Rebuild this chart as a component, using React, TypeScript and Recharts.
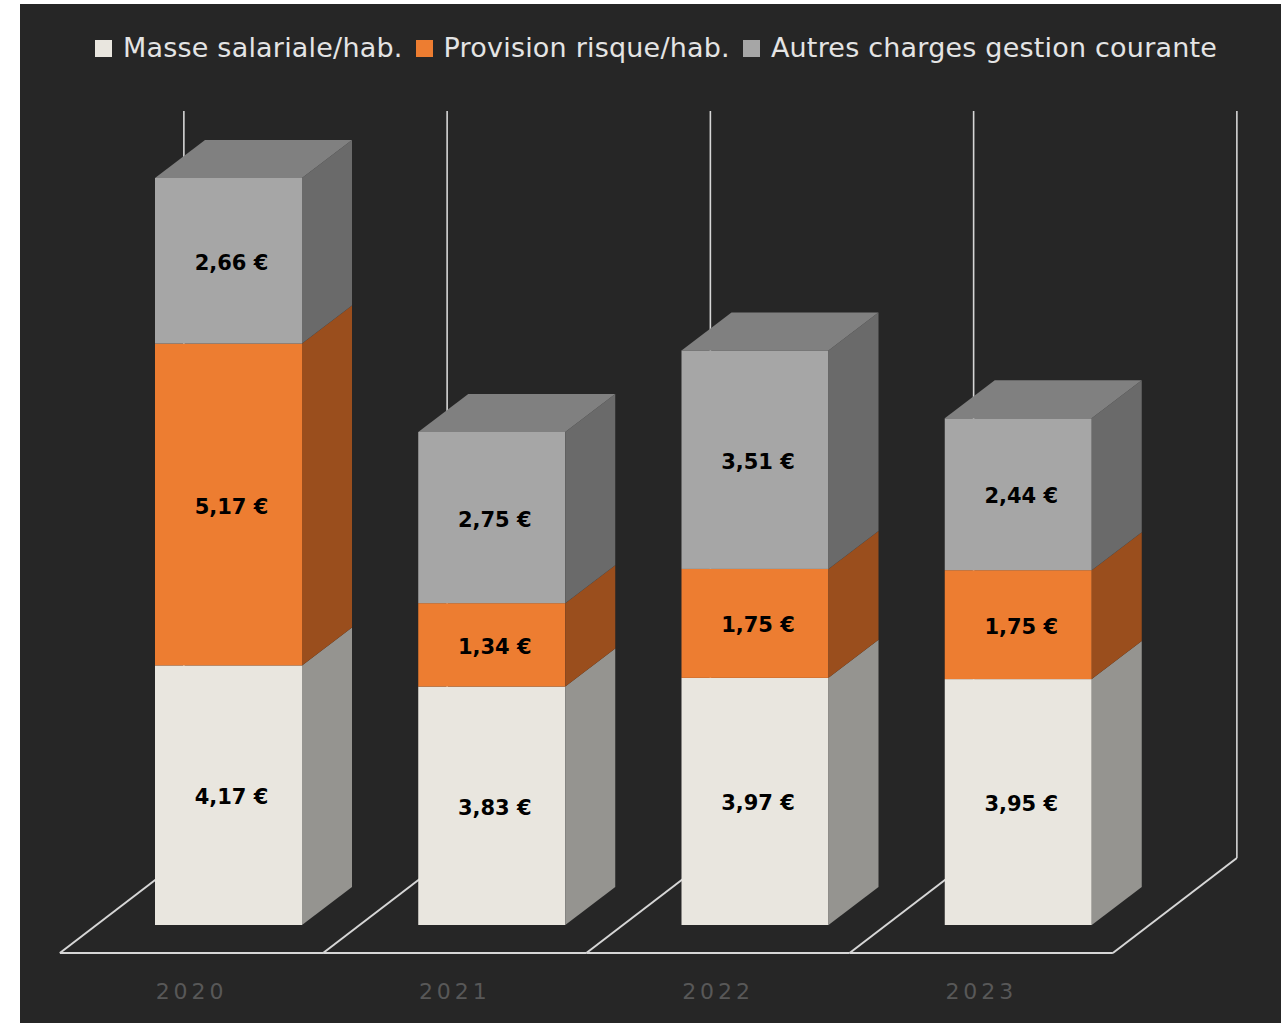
import { BarChart, Bar, XAxis, YAxis, LabelList } from 'recharts'

const years = ['2020', '2021', '2022', '2023']
const masseSalariale = [4.17, 3.83, 3.97, 3.95]
const provisionRisque = [5.17, 1.34, 1.75, 1.75]
const autresCharges = [2.66, 2.75, 3.51, 2.44]

const seriesNames = ['Masse salariale/hab.', 'Provision risque/hab.', 'Autres charges gestion courante']

const data = years.map((year, i) => ({
  year,
  masse: masseSalariale[i],
  provision: provisionRisque[i],
  autres: autresCharges[i],
}))

const CHART_W = 1261
const CHART_H = 1019
const MARGIN = { top: 174, right: 131, left: 77, bottom: 38 }
const PLOT_W = CHART_W - MARGIN.left - MARGIN.right
const BAND = PLOT_W / years.length
const BAR_W = 147

// depth offsets (pixels) for the fake 3D look
const DX = 50
const DY = 38
const FLOOR_FRONT_DX = -37
const FLOOR_FRONT_DY = 28
const FLOOR_BACK_DX = 87
const FLOOR_BACK_DY = -67

const LINE = '#d6d6d6'
const FONT = "'DejaVu Sans', Verdana, sans-serif"

const COLORS = {
  masse: { front: '#e9e6df', side: '#959490', top: '#c4c2bd' },
  provision: { front: '#ed7d31', side: '#9a4e1d', top: '#c26427' },
  autres: { front: '#a6a6a6', side: '#6a6a6a', top: '#808080' },
}

function Box3D(props: any) {
  const { x, y, width, height, colors, showTop } = props
  if (!height || height <= 0) return null
  const r = x + width
  const b = y + height
  return (
    <g>
      <rect x={x} y={y} width={width} height={height} fill={colors.front} />
      <polygon
        points={`${r},${b} ${r + DX},${b - DY} ${r + DX},${y - DY} ${r},${y}`}
        fill={colors.side}
      />
      {showTop && (
        <polygon
          points={`${x},${y} ${r},${y} ${r + DX},${y - DY} ${x + DX},${y - DY}`}
          fill={colors.top}
        />
      )}
    </g>
  )
}

// floor and back wall lines, drawn behind the bars, one band at a time
function Floor(props: any) {
  const { x, y, width, height } = props
  const bandLeft = x - (BAND - width) / 2
  const bottom = y + height
  const top = y
  const isLast = bandLeft + BAND >= MARGIN.left + PLOT_W - 1
  const fy = bottom + FLOOR_FRONT_DY
  const by = bottom + FLOOR_BACK_DY
  const edges = isLast ? [bandLeft, bandLeft + BAND] : [bandLeft]
  return (
    <g>
      <line
        x1={bandLeft + FLOOR_FRONT_DX}
        y1={fy}
        x2={bandLeft + BAND + FLOOR_FRONT_DX}
        y2={fy}
        stroke={LINE}
        strokeWidth={2}
      />
      {edges.map((ex) => (
        <g key={ex}>
          <line
            x1={ex + FLOOR_FRONT_DX}
            y1={fy}
            x2={ex + FLOOR_BACK_DX}
            y2={by}
            stroke={LINE}
            strokeWidth={2}
          />
          <line
            x1={ex + FLOOR_BACK_DX}
            y1={by}
            x2={ex + FLOOR_BACK_DX}
            y2={top + FLOOR_BACK_DY}
            stroke={LINE}
            strokeWidth={1.6}
          />
        </g>
      ))}
    </g>
  )
}

function YearTick(props: any) {
  const { x, y, payload } = props
  return (
    <text
      x={x + FLOOR_FRONT_DX}
      y={y + 74}
      textAnchor="middle"
      fill="#585858"
      fontSize={22}
      fontFamily={FONT}
      style={{ letterSpacing: 4 }}
    >
      {payload.value}
    </text>
  )
}

const euro = (v: any) => `${Number(v).toFixed(2).replace('.', ',')} €`

function ValueLabel(props: any) {
  const { x, y, width, height, value } = props
  return (
    <text
      x={x + width / 2 + 3}
      y={y + height / 2 + 2}
      textAnchor="middle"
      dominantBaseline="central"
      fill="#000"
      fontSize={21}
      fontWeight={700}
      fontFamily={FONT}
    >
      {euro(value)}
    </text>
  )
}

function LegendRow() {
  const items = [
    { name: seriesNames[0], color: COLORS.masse.front },
    { name: seriesNames[1], color: COLORS.provision.front },
    { name: seriesNames[2], color: COLORS.autres.front },
  ]
  return (
    <div
      style={{
        position: 'absolute',
        top: 27,
        left: 75,
        display: 'flex',
        gap: 13,
        fontFamily: FONT,
        fontSize: 27,
        letterSpacing: 0.2,
        color: '#e4e4e4',
        lineHeight: '34px',
        whiteSpace: 'nowrap',
      }}
    >
      {items.map((it) => (
        <div key={it.name} style={{ display: 'flex', alignItems: 'center', gap: 11 }}>
          <span style={{ width: 17, height: 17, background: it.color, display: 'inline-block' }} />
          <span>{it.name}</span>
        </div>
      ))}
    </div>
  )
}

export default function App() {
  return (
    <div
      style={{
        position: 'absolute',
        left: 20,
        top: 4,
        width: CHART_W,
        height: CHART_H,
        background: '#262626',
      }}
    >
      <LegendRow />
      <BarChart width={CHART_W} height={CHART_H} data={data} margin={MARGIN} barSize={BAR_W}>
        <XAxis
          dataKey="year"
          axisLine={false}
          tickLine={false}
          tickSize={0}
          tickMargin={0}
          height={60}
          tick={<YearTick />}
          interval={0}
        />
        <YAxis hide domain={[0, 12]} />
        <Bar
          dataKey="masse"
          stackId="a"
          isAnimationActive={false}
          background={(p: any) => <Floor {...p} />}
          shape={(p: any) => <Box3D {...p} colors={COLORS.masse} />}
        >
          <LabelList dataKey="masse" content={<ValueLabel />} />
        </Bar>
        <Bar
          dataKey="provision"
          stackId="a"
          isAnimationActive={false}
          shape={(p: any) => <Box3D {...p} colors={COLORS.provision} />}
        >
          <LabelList dataKey="provision" content={<ValueLabel />} />
        </Bar>
        <Bar
          dataKey="autres"
          stackId="a"
          isAnimationActive={false}
          shape={(p: any) => <Box3D {...p} colors={COLORS.autres} showTop />}
        >
          <LabelList dataKey="autres" content={<ValueLabel />} />
        </Bar>
      </BarChart>
    </div>
  )
}
